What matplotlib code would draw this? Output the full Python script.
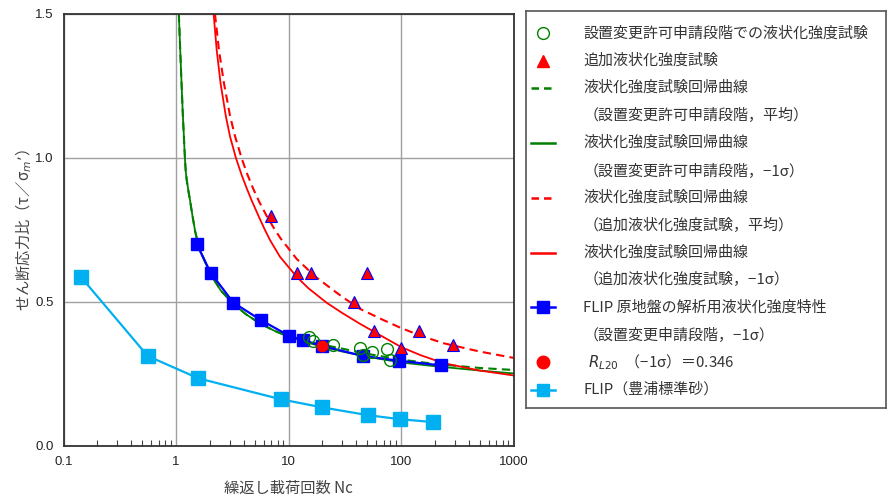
import numpy as np
import matplotlib.pyplot as plt

plt.rcParams['font.family'] = ['Noto Sans CJK JP', 'DejaVu Sans']

# 回帰曲線（設置変更許可申請段階）：図から読み取った点
N_g = [1.06, 1.09, 1.12, 1.15, 1.17, 1.2, 1.22, 1.245, 1.29, 1.33, 1.4, 1.48, 1.6,
       2.0, 2.5, 3.2, 4.2, 5.5, 7.5, 10]
v_g = [1.5, 1.375, 1.26, 1.15, 1.09, 1.0, 0.955, 0.924, 0.885, 0.855, 0.80, 0.745, 0.69,
       0.60, 0.54, 0.495, 0.457, 0.427, 0.40, 0.38]
N_g_tail = [15, 20, 30, 50, 100, 200, 500, 1000]
v_g_sig_tail = [0.358, 0.345, 0.328, 0.31, 0.29, 0.277, 0.262, 0.252]
v_g_avg_tail = [0.362, 0.352, 0.338, 0.32, 0.30, 0.285, 0.271, 0.264]

# 回帰曲線（追加液状化強度試験）
N_r_avg = [2.22, 2.41, 2.67, 3.02, 3.34, 3.84, 4.3, 4.86, 5.51, 6.39, 7.59, 8.5, 11.8,
           17.2, 21.9, 30, 43.3, 70, 101, 150, 238, 500, 1000]
v_r_avg = [1.5, 1.375, 1.259, 1.147, 1.077, 0.998, 0.944, 0.893, 0.847, 0.799, 0.75, 0.721, 0.65,
           0.589, 0.558, 0.518, 0.476, 0.437, 0.409, 0.383, 0.357, 0.328, 0.306]
N_r_sig = [2.16, 2.30, 2.49, 2.78, 3.02, 3.41, 3.84, 4.25, 4.71, 5.51, 6.18, 6.85, 8.4,
           11.8, 15, 21.9, 30, 43.3, 70, 101, 150, 238, 500, 1000]
v_r_sig = [1.5, 1.375, 1.259, 1.143, 1.075, 1.0, 0.94, 0.895, 0.852, 0.792, 0.75, 0.715, 0.657,
           0.588, 0.548, 0.497, 0.462, 0.424, 0.378, 0.343, 0.315, 0.288, 0.262, 0.245]

# 試験結果
N_circ = [15.3, 16.4, 25, 43, 46, 55, 75, 80]
v_circ = [0.38, 0.366, 0.351, 0.339, 0.316, 0.325, 0.336, 0.299]
N_tri = [7, 12, 16, 50, 38, 57, 100, 145, 290]
v_tri = [0.8, 0.6, 0.6, 0.6, 0.5, 0.4, 0.34, 0.4, 0.35]

# FLIP
N_flip = [1.53, 2.03, 3.23, 5.66, 10.2, 13.5, 20, 46, 96, 225]
v_flip = [0.70, 0.602, 0.498, 0.4375, 0.382, 0.368, 0.347, 0.3125, 0.296, 0.28]
N_toyo = [0.142, 0.56, 1.58, 8.6, 20, 51, 98, 194]
v_toyo = [0.588, 0.3125, 0.235, 0.162, 0.134, 0.107, 0.093, 0.083]
N_rl20 = [20]
v_rl20 = [0.346]

green = '#008000'
red = '#FF0000'
blue = '#0000FF'
lblue = '#00B0F0'

legend_labels = [
    '設置変更許可申請段階での液状化強度試験',
    '追加液状化強度試験',
    '液状化強度試験回帰曲線',
    '（設置変更許可申請段階，平均）',
    '液状化強度試験回帰曲線',
    '（設置変更許可申請段階，−1σ）',
    '液状化強度試験回帰曲線',
    '（追加液状化強度試験，平均）',
    '液状化強度試験回帰曲線',
    '（追加液状化強度試験，−1σ）',
    'FLIP 原地盤の解析用液状化強度特性',
    '（設置変更申請段階，−1σ）',
    '$R_{L20}$  （−1σ）＝0.346',
    'FLIP（豊浦標準砂）',
]

fig = plt.figure(figsize=(8.89, 5.01), dpi=100)
ax = fig.add_axes([63.5/889, 1-446/501, 450/889, 432/501])
ax.set_xscale('log')
ax.set_xlim(0.1, 1000)
ax.set_ylim(0, 1.5)

ax.plot(N_toyo, v_toyo, color=lblue, lw=1.6, marker='s', ms=9.5, mec=lblue, zorder=3)
ax.plot(N_g + N_g_tail, v_g + v_g_avg_tail, color=green, lw=1.5, ls=(0, (4, 2.5)), zorder=2)
ax.plot(N_g + N_g_tail, v_g + v_g_sig_tail, color=green, lw=1.3, zorder=2)
ax.plot(N_r_avg, v_r_avg, color=red, lw=1.5, ls=(0, (4, 2.5)), zorder=2)
ax.plot(N_r_sig, v_r_sig, color=red, lw=1.3, zorder=2)
ax.plot(N_flip, v_flip, color=blue, lw=1.6, marker='s', ms=8.5, mec=blue, zorder=4)
ax.plot(N_circ, v_circ, ls='none', marker='o', ms=8.5, mfc='none', mec=green, mew=1.0, zorder=5)
ax.plot(N_tri, v_tri, ls='none', marker='^', ms=8.5, mfc=red, mec=blue, mew=0.8, zorder=5)
ax.plot(N_rl20, v_rl20, ls='none', marker='o', ms=7.5, mfc=red, mec=red, zorder=6)

ax.set_xticks([0.1, 1, 10, 100, 1000])
ax.set_xticklabels(['0.1', '1', '10', '100', '1000'], fontfamily='Liberation Sans', fontsize=9.5)
ax.set_yticks([0, 0.5, 1.0, 1.5])
ax.set_yticklabels(['0.0', '0.5', '1.0', '1.5'], fontfamily='Liberation Sans', fontsize=9.5)
ax.tick_params(axis='both', which='major', length=0, pad=7, colors='#222222')
ax.tick_params(axis='x', which='minor', direction='in', length=4, width=0.8, color='#444444')
ax.tick_params(axis='y', which='minor', length=0)
ax.grid(True, which='major', color='#a0a0a0', lw=1.0)
for s in ax.spines.values():
    s.set_color('#333333')
    s.set_linewidth(1.3)

ax.set_xlabel('繰返し載荷回数 Nc', fontsize=11, color='#444444', labelpad=9)
ax.set_ylabel('せん断応力比（τ／σ$_{m}$’）', fontsize=11, color='#444444', labelpad=1)

# 凡例（枠の中をピクセル単位で配置）
lax = fig.add_axes([525.7/889, 1-408.3/501, 360/889, 397.3/501])
lax.set_xlim(0, 360)
lax.set_ylim(397.3, 0)
lax.set_xticks([])
lax.set_yticks([])
for s in lax.spines.values():
    s.set_color('#555555')
    s.set_linewidth(1.2)

row0, step = 22.3, 27.4
hx = [5.3, 29.3]
hm = 17.3
handles = {
    0: dict(marker='o', ms=8.5, mfc='none', mec=green, ls='none'),
    1: dict(marker='^', ms=8.5, mfc=red, mec=red, ls='none'),
    2: dict(color=green, lw=1.8, ls=(0, (3, 2))),
    4: dict(color=green, lw=1.8),
    6: dict(color=red, lw=1.8, ls=(0, (3, 2))),
    8: dict(color=red, lw=1.8),
    10: dict(color=blue, lw=1.8, marker='s', ms=8.5, mec=blue),
    12: dict(marker='o', ms=9, mfc=red, mec=red, ls='none'),
    13: dict(color=lblue, lw=1.8, marker='s', ms=8.5, mec=lblue),
}
for i, lab in enumerate(legend_labels):
    y = row0 + step*i
    if i in handles:
        st = handles[i]
        if st.get('ls') == 'none':
            lax.plot([hm], [y], **st)
        else:
            lax.plot(hx, [y, y], **{k: v for k, v in st.items() if k not in ('marker', 'ms', 'mec')})
            if 'marker' in st:
                lax.plot([hm], [y], ls='none', marker=st['marker'], ms=st['ms'], color=st['color'], mec=st['mec'])
    x = 62 if i == 12 else 57.6
    lax.text(x, y, lab, fontsize=10.8, color='#333333', va='center', ha='left')

fig.savefig('out.png', dpi=100)
